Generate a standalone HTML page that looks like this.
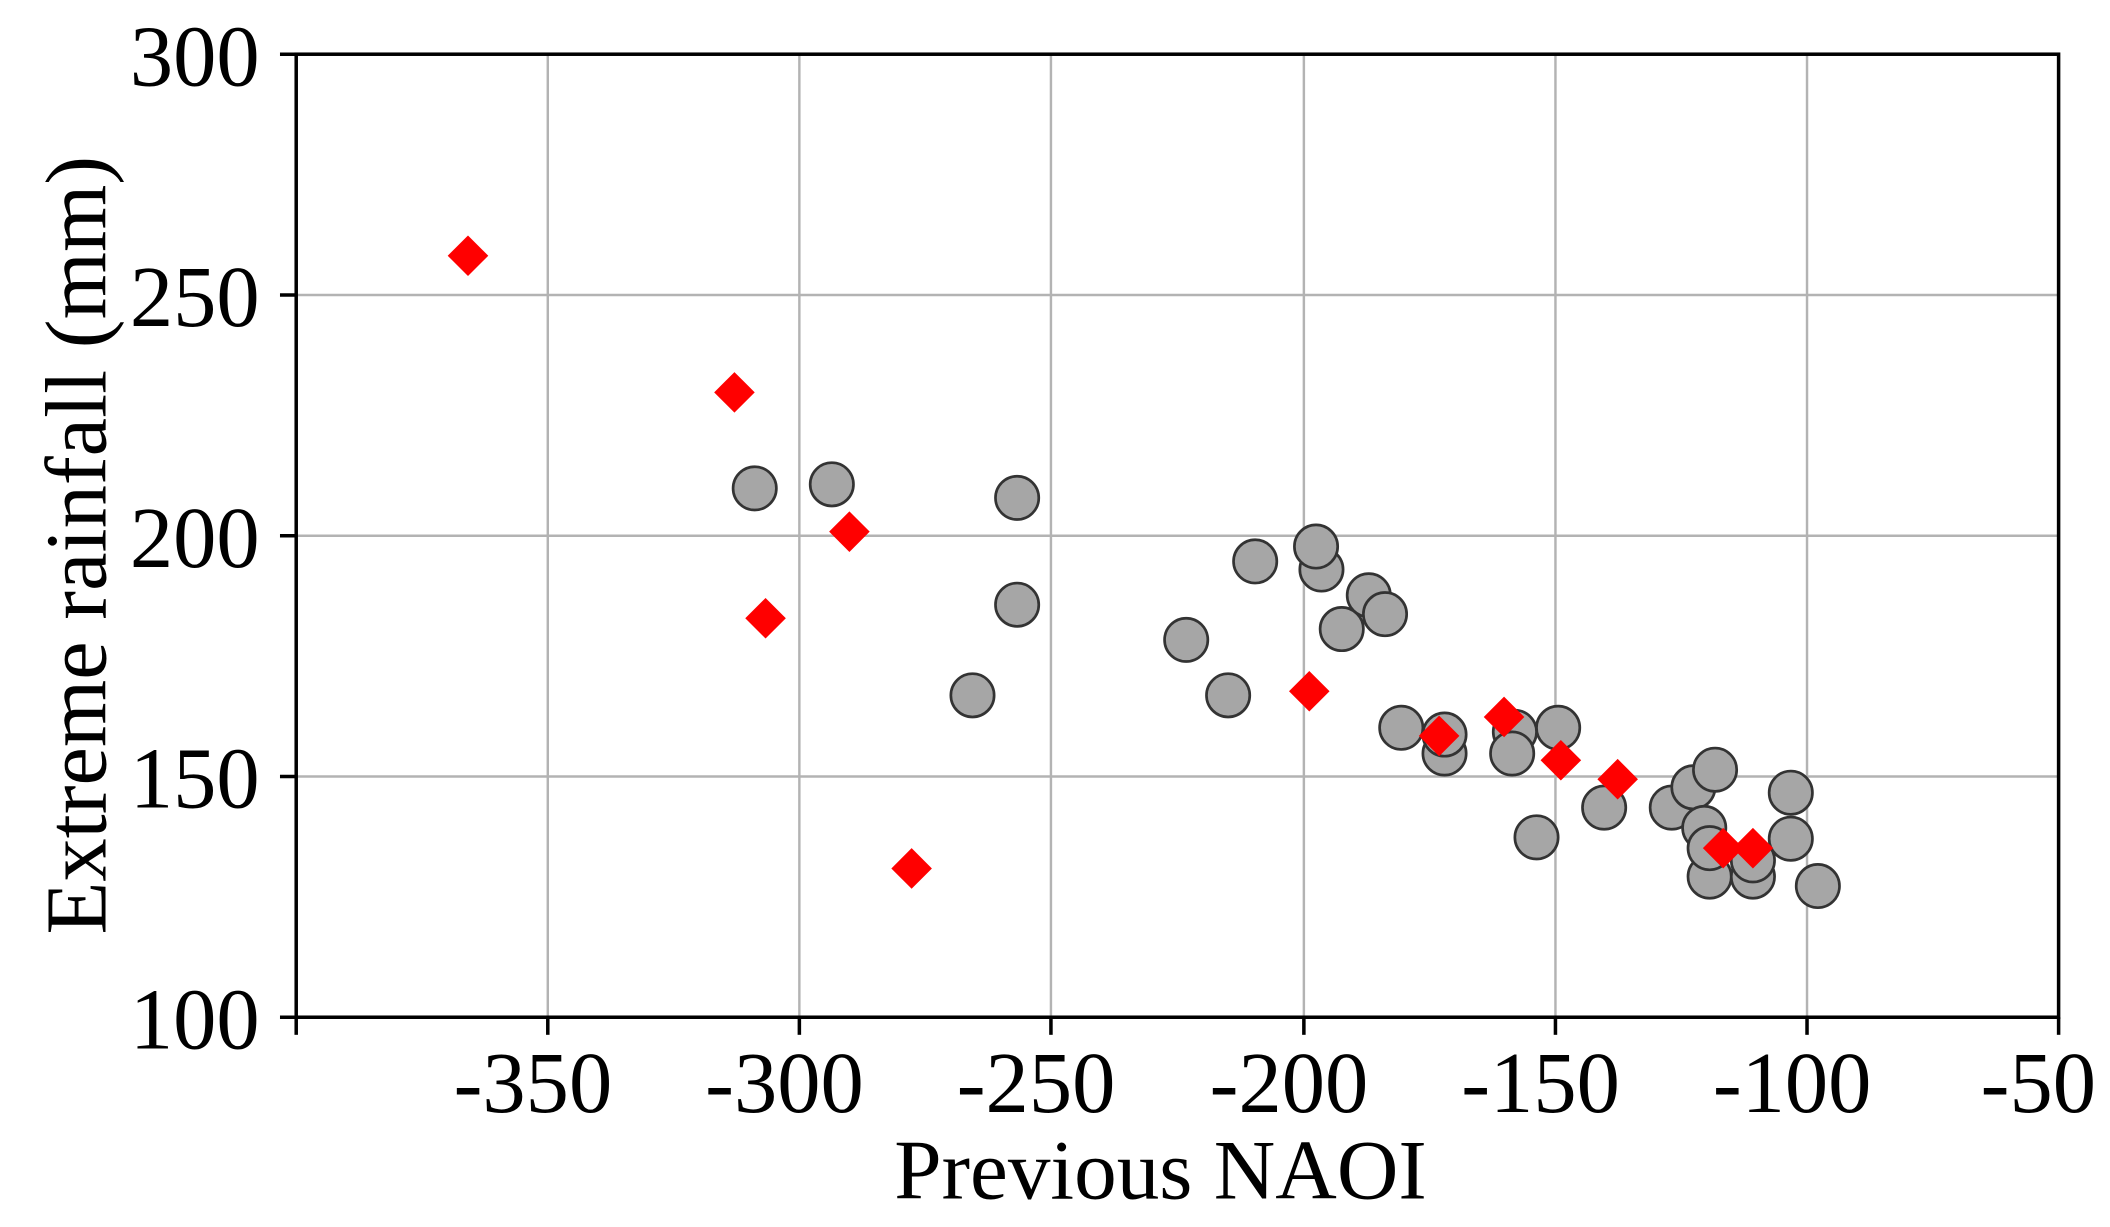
<!DOCTYPE html>
<html><head><meta charset="utf-8"><style>
html,body{margin:0;padding:0;background:#fff;}
svg{display:block;}
text{font-family:"Liberation Serif",serif;fill:#000;}
</style></head><body>
<svg width="2110" height="1227" viewBox="0 0 1560 907" xmlns="http://www.w3.org/2000/svg">
<g stroke="#b3b3b3" stroke-width="1.8">
<line x1="405" y1="40" x2="405" y2="752"/><line x1="591" y1="40" x2="591" y2="752"/>
<line x1="777" y1="40" x2="777" y2="752"/><line x1="964" y1="40" x2="964" y2="752"/>
<line x1="1150" y1="40" x2="1150" y2="752"/><line x1="1336" y1="40" x2="1336" y2="752"/>
<line x1="219" y1="218" x2="1522" y2="218"/><line x1="219" y1="396" x2="1522" y2="396"/>
<line x1="219" y1="574" x2="1522" y2="574"/>
</g>
<g stroke="#000" stroke-width="2.6" fill="none">
<rect x="219" y="40" width="1303" height="712"/>
<line x1="207" y1="40" x2="219" y2="40"/><line x1="207" y1="218" x2="219" y2="218"/>
<line x1="207" y1="396" x2="219" y2="396"/><line x1="207" y1="574" x2="219" y2="574"/>
<line x1="207" y1="752" x2="219" y2="752"/>
<line x1="219" y1="752" x2="219" y2="765"/><line x1="405" y1="752" x2="405" y2="765"/>
<line x1="591" y1="752" x2="591" y2="765"/><line x1="777" y1="752" x2="777" y2="765"/>
<line x1="964" y1="752" x2="964" y2="765"/><line x1="1150" y1="752" x2="1150" y2="765"/>
<line x1="1336" y1="752" x2="1336" y2="765"/><line x1="1522" y1="752" x2="1522" y2="765"/>
</g>
<g font-size="64" text-anchor="end">
<text x="192" y="63">300</text><text x="192" y="241">250</text><text x="192" y="419">200</text>
<text x="192" y="597">150</text><text x="192" y="775">100</text>
</g>
<g font-size="64" text-anchor="middle">
<text x="394" y="822">-350</text><text x="580" y="822">-300</text><text x="766" y="822">-250</text>
<text x="953" y="822">-200</text><text x="1139" y="822">-150</text><text x="1325" y="822">-100</text>
<text x="1507" y="822">-50</text>
</g>
<text x="858" y="886" font-size="63" text-anchor="middle">Previous NAOI</text>
<text transform="translate(78,403) rotate(-90)" font-size="64" text-anchor="middle">Extreme rainfall (mm)</text>
<g fill="#a6a6a6" stroke="#333" stroke-width="2">
<circle cx="558" cy="361" r="16"/><circle cx="615" cy="358" r="16"/><circle cx="752" cy="368" r="16"/>
<circle cx="752" cy="447" r="16"/><circle cx="719" cy="514" r="16"/><circle cx="877" cy="473" r="16"/>
<circle cx="908" cy="514" r="16"/><circle cx="928" cy="415" r="16"/><circle cx="977" cy="421" r="16"/>
<circle cx="973" cy="404" r="16"/><circle cx="992" cy="465" r="16"/><circle cx="1012" cy="440" r="16"/>
<circle cx="1024" cy="454" r="16"/><circle cx="1036" cy="538" r="16"/><circle cx="1068" cy="557" r="16"/>
<circle cx="1068" cy="543" r="16"/><circle cx="1120" cy="541" r="16"/><circle cx="1118" cy="557" r="16"/>
<circle cx="1152" cy="538" r="16"/><circle cx="1136" cy="619" r="16"/><circle cx="1186" cy="597" r="16"/>
<circle cx="1236" cy="597" r="16"/><circle cx="1252" cy="582" r="16"/><circle cx="1268" cy="569" r="16"/>
<circle cx="1260" cy="612" r="16"/><circle cx="1264" cy="648" r="16"/><circle cx="1264" cy="627" r="16"/>
<circle cx="1296" cy="648" r="16"/><circle cx="1296" cy="636" r="16"/><circle cx="1324" cy="586" r="16"/>
<circle cx="1324" cy="620" r="16"/><circle cx="1344" cy="655" r="16"/>
</g>
<g fill="#ff0000">
<path d="M346 174l15 15l-15 15l-15-15z"/><path d="M543 275l15 15l-15 15l-15-15z"/>
<path d="M628 378l15 15l-15 15l-15-15z"/><path d="M566 442l15 15l-15 15l-15-15z"/>
<path d="M674 627l15 15l-15 15l-15-15z"/><path d="M968 496l15 15l-15 15l-15-15z"/>
<path d="M1064 529l15 15l-15 15l-15-15z"/><path d="M1112 515l15 15l-15 15l-15-15z"/>
<path d="M1154 547l15 15l-15 15l-15-15z"/><path d="M1196 561l15 15l-15 15l-15-15z"/>
<path d="M1274 612l15 15l-15 15l-15-15z"/><path d="M1296 612l15 15l-15 15l-15-15z"/>
</g>
</svg>
</body></html>
